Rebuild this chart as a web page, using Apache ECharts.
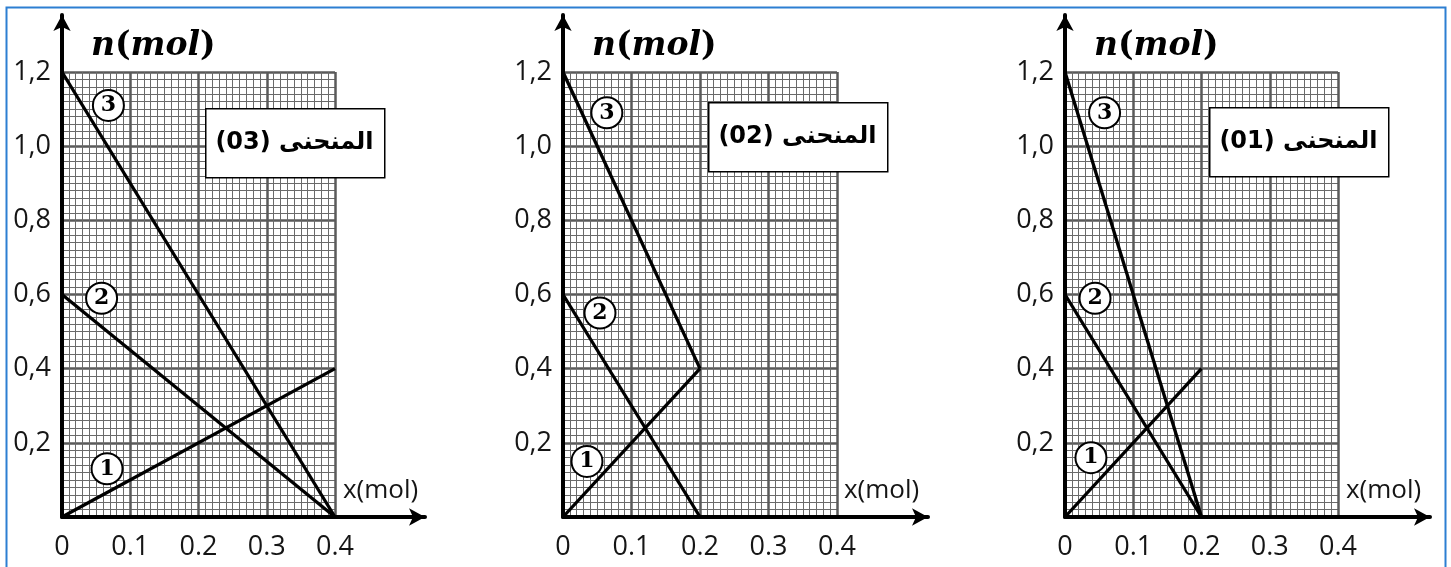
<!DOCTYPE html>
<html>
<head>
<meta charset="utf-8">
<script src="https://cdn.jsdelivr.net/npm/echarts@6/dist/echarts.min.js"></script>
<style>
html,body{margin:0;padding:0;background:#fff;}
#c{width:1451px;height:567px;}
</style>
</head>
<body>
<div id="c"></div>
<script>
// ---- data ----
const xTickLabels = ['0', '0.1', '0.2', '0.3', '0.4'];
const yTickLabels = ['', '0,2', '0,4', '0,6', '0,8', '1,0', '1,2'];
const panelTitles = ['(03) المنحنى', '(02) المنحنى', '(01) المنحنى'];
const yAxisName = 'n(mol)';
const xAxisName = 'x(mol)';

// panel (03)
const curve1_03 = [[0, 0], [0.4, 0.4]];
const curve2_03 = [[0, 0.6], [0.4, 0]];
const curve3_03 = [[0, 1.2], [0.4, 0]];
const marks_03 = [[0.068, 1.11, '3'], [0.058, 0.59, '2'], [0.066, 0.13, '1']];
// panel (02)
const curve1_02 = [[0, 0], [0.2, 0.4]];
const curve2_02 = [[0, 0.6], [0.2, 0]];
const curve3_02 = [[0, 1.2], [0.2, 0.4]];
const marks_02 = [[0.064, 1.09, '3'], [0.054, 0.55, '2'], [0.035, 0.15, '1']];
// panel (01)
const curve1_01 = [[0, 0], [0.2, 0.4]];
const curve2_01 = [[0, 0.6], [0.2, 0]];
const curve3_01 = [[0, 1.2], [0.2, 0]];
const marks_01 = [[0.058, 1.09, '3'], [0.044, 0.59, '2'], [0.038, 0.16, '1']];

// ---- layout ----
const panels = [
  { left: 62, width: 273, axisW: 363, curves: [curve1_03, curve2_03, curve3_03], marks: marks_03, box: [205, 108] },
  { left: 563, width: 274, axisW: 365, curves: [curve1_02, curve2_02, curve3_02], marks: marks_02, box: [708, 102] },
  { left: 1065, width: 273, axisW: 365, curves: [curve1_01, curve2_01, curve3_01], marks: marks_01, box: [1209, 107] }
];
const paperTop = 72, paperH = 445, axisTop = 15, axisBottomY = 517;
const labelFont = '"Open Sans", "Noto Sans", sans-serif';

const grid = [], xAxis = [], yAxis = [], series = [], graphic = [];

panels.forEach((p, i) => {
  const gi = i * 2;
  grid.push({ left: p.left, top: paperTop, width: p.width, height: paperH, containLabel: false });
  grid.push({ left: p.left, top: axisTop, width: p.axisW, height: axisBottomY - axisTop, containLabel: false });

  xAxis.push({
    gridIndex: gi, type: 'value', min: 0, max: 0.4, interval: 0.1,
    axisLine: { show: false }, axisTick: { show: false },
    axisLabel: { margin: 17, fontSize: 27, color: '#151515', fontFamily: labelFont,
      formatter: (v) => xTickLabels[Math.round(v / 0.1)] },
    splitLine: { show: true, lineStyle: { color: '#5a5a5a', width: 2.5 } },
    minorTick: { show: false, splitNumber: 10 },
    minorSplitLine: { show: true, lineStyle: { color: '#6a6a6a', width: 1 } }
  });
  yAxis.push({
    gridIndex: gi, type: 'value', min: 0, max: 1.2, interval: 0.2,
    axisLine: { show: false }, axisTick: { show: false },
    axisLabel: { margin: 11, fontSize: 27, color: '#151515', fontFamily: labelFont,
      formatter: (v) => yTickLabels[Math.round(v / 0.2)] },
    splitLine: { show: true, lineStyle: { color: '#5a5a5a', width: 2.5 } },
    minorTick: { show: false, splitNumber: 10 },
    minorSplitLine: { show: true, lineStyle: { color: '#6a6a6a', width: 1 } }
  });
  xAxis.push({
    gridIndex: gi + 1, type: 'value', min: 0, max: 1,
    axisLine: { show: true, symbol: ['none', 'arrow'], symbolSize: [13, 16], lineStyle: { color: '#000', width: 4 } },
    axisTick: { show: false }, axisLabel: { show: false }, splitLine: { show: false }
  });
  yAxis.push({
    gridIndex: gi + 1, type: 'value', min: 0, max: 1,
    axisLine: { show: true, symbol: ['none', 'arrow'], symbolSize: [13, 16], lineStyle: { color: '#000', width: 4 } },
    axisTick: { show: false }, axisLabel: { show: false }, splitLine: { show: false }
  });

  p.curves.forEach((c) => {
    series.push({
      type: 'line', xAxisIndex: gi, yAxisIndex: gi, data: c, symbol: 'none',
      lineStyle: { color: '#000', width: 3.3 }, z: 5, silent: true, animation: false
    });
  });
  series.push({
    type: 'scatter', xAxisIndex: gi, yAxisIndex: gi, data: p.marks,
    symbol: 'circle', symbolSize: 31, z: 6, animation: false,
    itemStyle: { color: '#fff', borderColor: '#000', borderWidth: 2, opacity: 1 },
    label: { show: true, position: 'inside', formatter: (d) => d.value[2],
      fontSize: 22, fontWeight: 'bold', color: '#000', fontFamily: '"DejaVu Serif", serif' }
  });

  graphic.push({
    type: 'text', left: p.left + 29, top: 30, z: 10,
    style: {
      text: '{i|n}{p|(}{i|mol}{p|)}',
      rich: {
        i: { fontSize: 33, fontWeight: 'bold', fontStyle: 'italic', fontFamily: '"DejaVu Serif", serif', fill: '#000' },
        p: { fontSize: 33, fontWeight: 'bold', fontFamily: '"DejaVu Serif", serif', fill: '#000' }
      }
    }
  });
  graphic.push({
    type: 'text', left: p.left + 281, top: 478, z: 10,
    style: { text: xAxisName, fontSize: 26, fontFamily: labelFont, fill: '#151515' }
  });
  graphic.push({
    type: 'rect', left: p.box[0], top: p.box[1], z: 10,
    shape: { width: 179, height: 69 },
    style: { fill: '#fff', stroke: '#000', lineWidth: 1.5 }
  });
  graphic.push({
    type: 'text', x: p.box[0] + 89.5, y: p.box[1] + 35, z: 11,
    style: { text: panelTitles[i], fontSize: 24, fontWeight: 'bold', fontFamily: '"DejaVu Sans", sans-serif',
      fill: '#000', align: 'center', verticalAlign: 'middle' }
  });
});

graphic.push({
  type: 'rect', left: 4, top: 5, z: 20, silent: true,
  shape: { width: 1439, height: 620 },
  style: { fill: 'none', stroke: '#2c7fd2', lineWidth: 2 }
});

const chart = echarts.init(document.getElementById('c'), null, { renderer: 'canvas' });
chart.setOption({
  animation: false,
  backgroundColor: '#fff',
  grid, xAxis, yAxis, series, graphic
});
</script>
</body>
</html>
